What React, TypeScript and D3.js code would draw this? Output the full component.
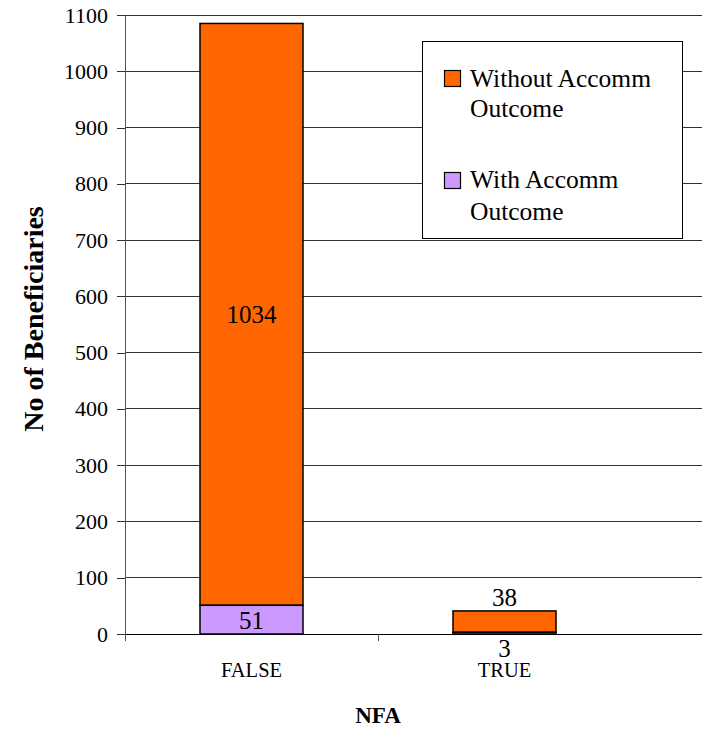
import React, { useEffect, useRef } from 'react';
import * as d3 from 'd3';

const categories = ['FALSE', 'TRUE'];
const withAccomm = [51, 3];
const withoutAccomm = [1034, 38];
const yTicks = [0, 100, 200, 300, 400, 500, 600, 700, 800, 900, 1000, 1100];
const seriesNames = ['Without Accomm Outcome', 'With Accomm Outcome'];

const ORANGE = '#FF6600';
const PURPLE = '#CC99FF';
const FONT = 'Liberation Serif, Times New Roman, DejaVu Serif, serif';

function App() {
  const ref = useRef<SVGSVGElement>(null);

  useEffect(() => {
    const svg = d3.select(ref.current);
    svg.selectAll('*').remove();

    const left = 125;
    const top = 15;
    const bottom = 634;
    const right = 702;

    const y = d3.scaleLinear().domain([0, 1100]).range([bottom, top]);
    const x = d3.scaleBand().domain(categories).range([left, 631]).paddingInner(0).paddingOuter(0);
    const barW = 103;

    // gridlines
    svg.append('g')
      .selectAll('line')
      .data(yTicks.filter((t) => t > 0))
      .enter()
      .append('line')
      .attr('x1', left)
      .attr('x2', right)
      .attr('y1', (d) => y(d))
      .attr('y2', (d) => y(d))
      .attr('stroke', '#333')
      .attr('stroke-width', 1)
      .attr('shape-rendering', 'crispEdges');

    // y axis
    const yAxis = svg.append('g')
      .attr('transform', `translate(${left},0)`)
      .call(d3.axisLeft(y).tickValues(yTicks).tickSize(8).tickPadding(9).tickFormat(d3.format('d')));
    yAxis.attr('font-family', FONT).attr('font-size', 22);
    yAxis.select('.domain').attr('stroke', '#555').attr('shape-rendering', 'crispEdges');
    yAxis.selectAll('.tick line').attr('stroke', '#333').attr('shape-rendering', 'crispEdges');
    yAxis.selectAll('text').attr('fill', '#000');

    // x axis
    svg.append('line')
      .attr('x1', left).attr('x2', right)
      .attr('y1', bottom).attr('y2', bottom)
      .attr('stroke', '#000').attr('shape-rendering', 'crispEdges');
    svg.append('g')
      .selectAll('line')
      .data([left, x('TRUE') as number])
      .enter()
      .append('line')
      .attr('x1', (d) => d).attr('x2', (d) => d)
      .attr('y1', bottom).attr('y2', bottom + 7)
      .attr('stroke', '#555').attr('shape-rendering', 'crispEdges');

    svg.append('g')
      .selectAll('text')
      .data(categories)
      .enter()
      .append('text')
      .attr('x', (d) => (x(d) as number) + x.bandwidth() / 2)
      .attr('y', 677)
      .attr('text-anchor', 'middle')
      .attr('font-family', FONT)
      .attr('font-size', 20.5)
      .text((d) => d);

    // bars
    const g = svg.append('g');
    categories.forEach((c, i) => {
      const cx = (x(c) as number) + x.bandwidth() / 2;
      const x0 = cx - barW / 2;
      const w = withAccomm[i];
      const wo = withoutAccomm[i];
      g.append('rect')
        .attr('x', x0).attr('width', barW)
        .attr('y', y(w + wo)).attr('height', y(w) - y(w + wo))
        .attr('fill', ORANGE).attr('stroke', '#000').attr('stroke-width', 1.5);
      g.append('rect')
        .attr('x', x0).attr('width', barW)
        .attr('y', y(w)).attr('height', y(0) - y(w))
        .attr('fill', PURPLE).attr('stroke', '#000').attr('stroke-width', 1.5);
    });

    // value labels
    const lab = svg.append('g').attr('font-family', FONT).attr('font-size', 25).attr('text-anchor', 'middle');
    categories.forEach((c, i) => {
      const cx = (x(c) as number) + x.bandwidth() / 2;
      const w = withAccomm[i];
      const wo = withoutAccomm[i];
      const big = y(0) - y(wo) > 40;
      lab.append('text')
        .attr('x', cx)
        .attr('y', big ? y(w + wo / 2) + 9 : y(w + wo) - 5)
        .text(wo);
      const inside = y(0) - y(w) > 20;
      lab.append('text')
        .attr('x', cx)
        .attr('y', inside ? y(w / 2) + 9 : y(0) + 23)
        .text(w);
    });

    // legend
    const lg = svg.append('g');
    lg.append('rect')
      .attr('x', 422.5).attr('y', 41.5).attr('width', 260).attr('height', 197)
      .attr('fill', '#fff').attr('stroke', '#000').attr('stroke-width', 1);
    const colors = [ORANGE, PURPLE];
    const rows = [[70, 87, 117], [172, 188, 220]];
    seriesNames.forEach((name, i) => {
      const [sy, b1, b2] = rows[i];
      lg.append('rect')
        .attr('x', 444.5).attr('y', sy + 0.5).attr('width', 16).attr('height', 16)
        .attr('fill', colors[i]).attr('stroke', '#000').attr('stroke-width', 1.2);
      const words = name.split(' ');
      const t = lg.append('text').attr('font-family', FONT).attr('font-size', 25.5);
      t.append('tspan').attr('x', 470).attr('y', b1).text(words.slice(0, 2).join(' '));
      t.append('tspan').attr('x', 470).attr('y', b2).text(words.slice(2).join(' '));
    });

    // axis titles
    svg.append('text')
      .attr('transform', `translate(43,319) rotate(-90)`)
      .attr('text-anchor', 'middle')
      .attr('font-family', FONT)
      .attr('font-size', 28)
      .attr('font-weight', 'bold')
      .text('No of Beneficiaries');
    svg.append('text')
      .attr('x', (left + 631) / 2)
      .attr('y', 723)
      .attr('text-anchor', 'middle')
      .attr('font-family', FONT)
      .attr('font-size', 23)
      .attr('font-weight', 'bold')
      .text('NFA');
  }, []);

  return (
    <svg
      ref={ref}
      width={702}
      height={729}
      style={{ position: 'absolute', left: 0, top: 0, background: '#fff' }}
    />
  );
}

export default App;
